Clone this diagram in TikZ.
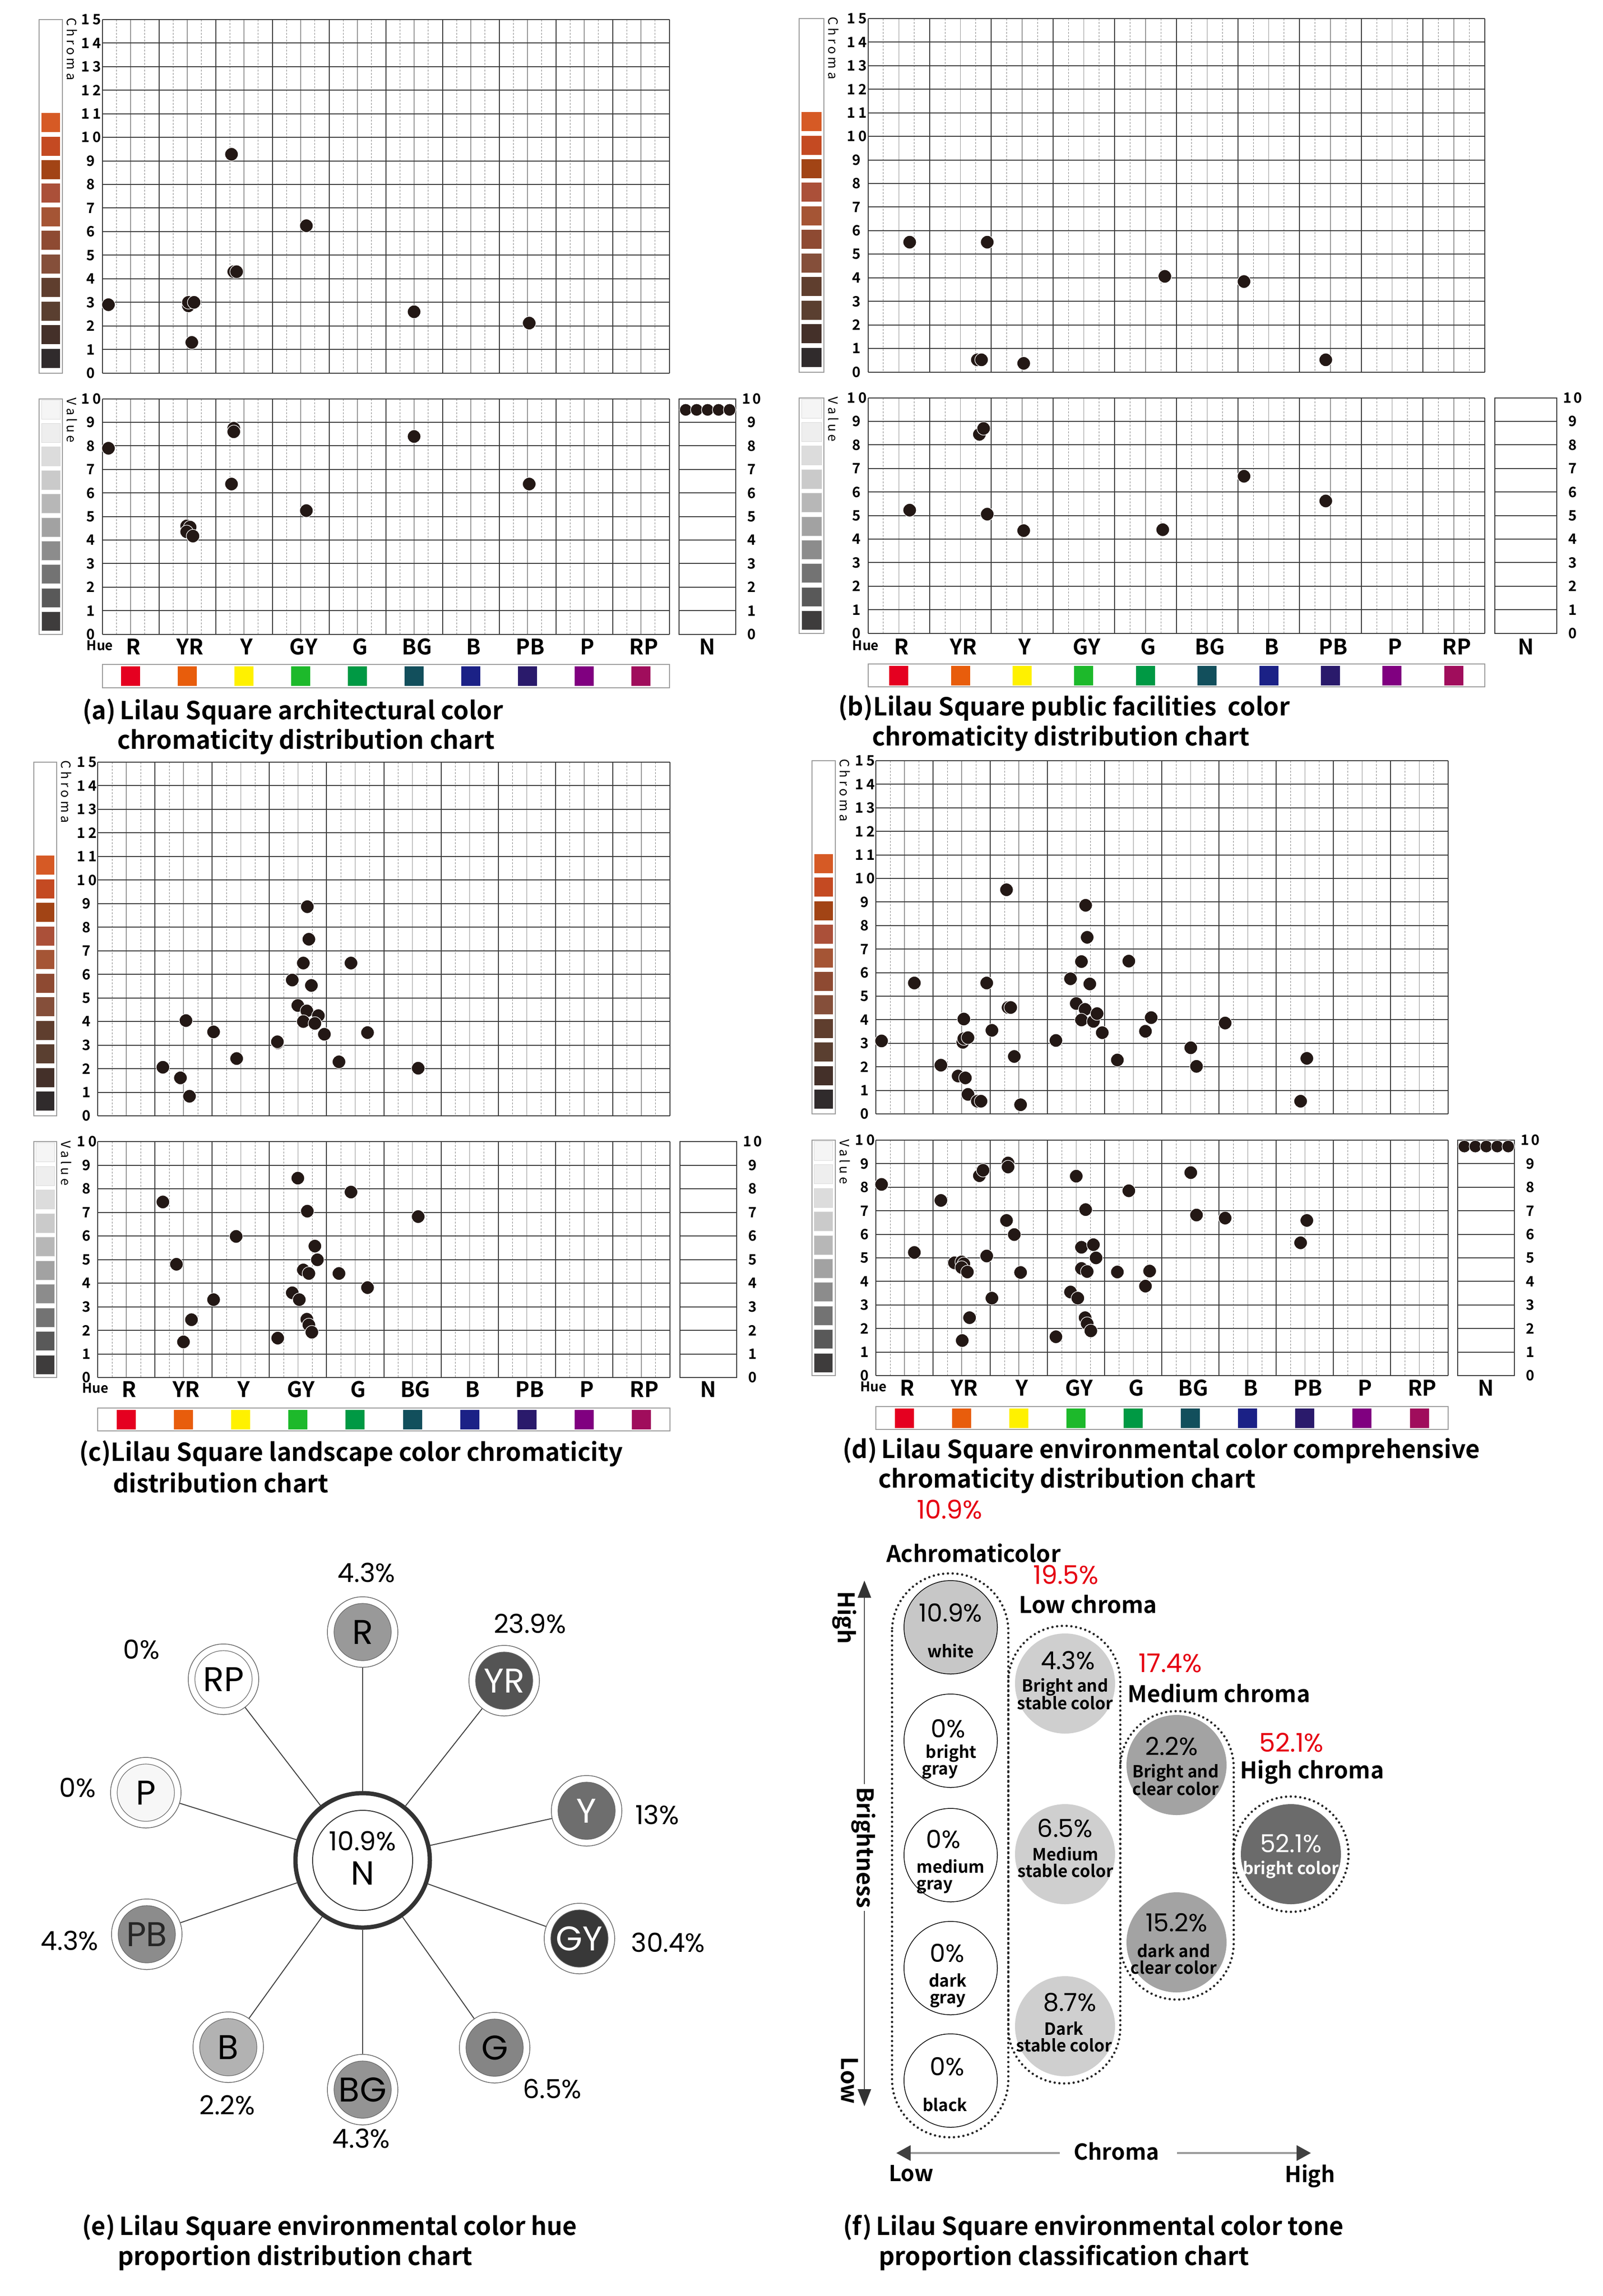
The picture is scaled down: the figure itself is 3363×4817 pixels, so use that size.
\documentclass[tikz,border=0pt]{standalone}
\usepackage{fontspec}
\usetikzlibrary{arrows.meta}
\newfontfamily\bfnt{Noto Sans CJK SC Bold}
\newfontfamily\rfnt{Noto Sans CJK SC}
\newfontfamily\thinf{Poppins}
\newcommand\fsz[1]{\fontsize{#1}{#1}\selectfont}
\definecolor{dotc}{HTML}{231815}
\definecolor{redp}{HTML}{E60012}
\definecolor{sc0}{HTML}{302B2C}\definecolor{sc1}{HTML}{443029}\definecolor{sc2}{HTML}{5A3F30}
\definecolor{sc3}{HTML}{5F3E2E}\definecolor{sc4}{HTML}{854F3A}\definecolor{sc5}{HTML}{8E4A32}
\definecolor{sc6}{HTML}{A55535}\definecolor{sc7}{HTML}{AB5039}\definecolor{sc8}{HTML}{A24415}
\definecolor{sc9}{HTML}{C44A22}\definecolor{sc10}{HTML}{D65A25}
\definecolor{vc0}{HTML}{3E3C3C}\definecolor{vc1}{HTML}{595959}\definecolor{vc2}{HTML}{737373}
\definecolor{vc3}{HTML}{8C8C8C}\definecolor{vc4}{HTML}{A2A2A2}\definecolor{vc5}{HTML}{B7B7B7}
\definecolor{vc6}{HTML}{CACACA}\definecolor{vc7}{HTML}{DCDCDC}\definecolor{vc8}{HTML}{EEEEEE}
\definecolor{vc9}{HTML}{F5F5F5}
\definecolor{hc0}{HTML}{E50020}\definecolor{hc1}{HTML}{E85D0C}\definecolor{hc2}{HTML}{FFF100}
\definecolor{hc3}{HTML}{1DB92B}\definecolor{hc4}{HTML}{009944}\definecolor{hc5}{HTML}{124F5C}
\definecolor{hc6}{HTML}{1B2186}\definecolor{hc7}{HTML}{2A1A6B}\definecolor{hc8}{HTML}{800080}
\definecolor{hc9}{HTML}{A00D5C}
\tikzset{
 mline/.style={draw=black!78,line width=2},
 hline/.style={draw=black!42,line width=1.4},
 qline/.style={draw=black!50,line width=1,dash pattern=on 4pt off 3pt},
 dot/.style={fill=dotc,draw=white,line width=1.2},
 tick/.style={inner sep=0,font=\bfnt\fsz{30}},
 huel/.style={inner sep=0,font=\bfnt\fsz{45}},
 capt/.style={inner sep=0,anchor=west,font=\bfnt\fsz{52}},
 frame/.style={draw=black!40,line width=2},
 sat/.style={circle,minimum size=148,draw=black!60,line width=1.5,fill=white,inner sep=0,font=\thinf\fsz{72}},
 pct/.style={inner sep=0,font=\thinf\fsz{55}},
 redt/.style={inner sep=0,text=redp,font=\thinf\fsz{54}},
 bl/.style={inner sep=0,font=\bfnt\fsz{48}},
 cl/.style={inner sep=0,font=\bfnt\fontsize{35}{35}\selectfont,align=center},
 cp/.style={inner sep=0,font=\thinf\fsz{52}},
 dotted capsule/.style={draw=black!85,line width=5,line cap=round,dash pattern=on 0pt off 10pt},
}
\newcommand\mgrid[4]{%
 \foreach \k in {0,...,9}{
  \draw[qline] ({\pL+(\k+0.25)*\pG},#1) -- ({\pL+(\k+0.25)*\pG},#2);
  \draw[qline] ({\pL+(\k+0.75)*\pG},#1) -- ({\pL+(\k+0.75)*\pG},#2);
  \draw[hline] ({\pL+(\k+0.5)*\pG},#1) -- ({\pL+(\k+0.5)*\pG},#2);}
 \foreach \j in {0,...,#3} \draw[mline] (\pL,{#1+\j*#4}) -- (\pR,{#1+\j*#4});
 \foreach \k in {0,...,10} \draw[mline] ({\pL+\k*\pG},#1) -- ({\pL+\k*\pG},#2);
}
\newcommand\drawpanel{%
 \pgfmathsetmacro\pR{\pL+10*\pG}
 \pgfmathsetmacro\pUC{(\pCZ-\pCT)/15}
 \pgfmathsetmacro\pUV{(\pVZ-\pVT)/10}
 \mgrid{\pCT}{\pCZ}{15}{\pUC}
 \mgrid{\pVT}{\pVZ}{10}{\pUV}
 \foreach \j in {0,...,9}{
  \node[tick] at ({\pL-24},{\pCZ-\j*\pUC}) {\j};
  \node[tick] at ({\pL-24},{\pVZ-\j*\pUV}) {\j};}
 \foreach \j in {10,...,15}{\pgfmathtruncatemacro\dd{\j-10}
  \node[tick,anchor=east] at ({\pL-2},{\pCZ-\j*\pUC}) {1\hspace{6pt}\dd};}
 \node[tick,anchor=east] at ({\pL-2},\pVT) {1\hspace{6pt}0};
 \draw[frame] (\pBa,\pCT) rectangle (\pBb,\pCZ);
 \draw[frame] (\pBa,\pVT) rectangle (\pBb,\pVZ);
 \foreach \i in {0,...,10} \fill[sc\i] ({\pBa+5},{\pCZ-11-\i*\pUC}) rectangle ({\pBb-5},{\pCZ-51-\i*\pUC});
 \foreach \i in {0,...,9} \filldraw[fill=vc\i,draw=black!15,line width=1] ({\pBa+5},{\pVZ-7-\i*\pUV}) rectangle ({\pBb-5},{\pVZ-47-\i*\pUV});
 \node[inner sep=0,rotate=-90,font=\rfnt\fsz{27}] at ({\pBb+20},{\pCT+62}) {C h r o m a};
 \node[inner sep=0,rotate=-90,font=\rfnt\fsz{27}] at ({\pBb+20},{\pVT+45}) {V a l u e};
 \draw[mline] (\pNa,\pVT) rectangle (\pNb,\pVZ);
 \foreach \j in {1,...,9} \draw[mline] (\pNa,{\pVZ-\j*\pUV}) -- (\pNb,{\pVZ-\j*\pUV});
 \foreach \j in {0,...,9} \node[tick] at ({\pNb+33},{\pVZ-\j*\pUV}) {\j};
 \node[tick] at ({\pNb+33},\pVT) {1\hspace{4pt}0};
 \node[huel] at ({(\pNa+\pNb)/2},\pHy) {N};
 \node[inner sep=0,font=\bfnt\fsz{28}] at ({\pL-5},{\pHy-3}) {Hue};
 \foreach \t [count=\k from 0] in {R,YR,Y,GY,G,BG,B,PB,P,RP}
  \node[huel] at ({\pL+(\k+0.5)*\pG+6},\pHy) {\t};
 \draw[frame] (\pL,\pSa) rectangle (\pR,\pSb);
 \foreach \k in {0,...,9} \fill[hc\k] ({\pL+(\k+0.5)*\pG-20},{(\pSa+\pSb)/2-20.5}) rectangle ({\pL+(\k+0.5)*\pG+20},{(\pSa+\pSb)/2+20.5});
}
\newcommand\chdots[1]{\foreach \hh/\cc in {#1} \filldraw[dot] ({\pL+\hh*\pG},{\pCZ-\cc*\pUC}) circle (14);}
\newcommand\vadots[1]{\foreach \hh/\cc in {#1} \filldraw[dot] ({\pL+\hh*\pG},{\pVZ-\cc*\pUV}) circle (14);}
\newcommand\ndots[1]{\foreach \i in {0,...,4} \filldraw[dot] ({\pNa+14+23*\i},{\pVZ-#1*\pUV}) circle (13);}
\begin{document}
\begin{tikzpicture}[x=1pt,y=-1pt]
\useasboundingbox (0,0) rectangle (3363,4817);
\fill[white] (0,0) rectangle (3363,4817);
% ---------- panel a
\def\pL{214.5}\def\pG{119}\def\pCT{40.8}\def\pCZ{782.7}\def\pVT{836.7}\def\pVZ{1330.6}
\def\pBa{82}\def\pBb{131}\def\pNa{1425}\def\pNb{1544}\def\pHy{1357}\def\pSa{1394}\def\pSb{1443}
\drawpanel
\chdots{0.11/2.9,2.28/9.28,3.6/6.25,2.32/4.3,2.37/4.3,1.52/2.85,1.52/3.0,1.62/3.0,1.58/1.3,5.5/2.6,7.53/2.12}
\vadots{0.11/7.9,2.32/8.75,2.32/8.6,2.28/6.38,3.6/5.25,1.49/4.6,1.55/4.55,1.49/4.35,1.6/4.17,5.5/8.4,7.53/6.38}
\ndots{9.53}
\node[capt] at (173,1493) {(a)\,Lilau Square architectural color};
\node[capt] at (246,1556) {chromaticity distribution chart};
% ---------- panel b
\def\pL{1821.5}\def\pG{129.4}\def\pCT{38.8}\def\pCZ{780.6}\def\pVT{834.7}\def\pVZ{1328.6}
\def\pBa{1677}\def\pBb{1729}\def\pNa{3137}\def\pNb{3267}\def\pHy{1357}\def\pSa{1393}\def\pSb{1441}
\drawpanel
\chdots{0.676/5.51,1.934/5.51,4.814/4.06,6.098/3.84,1.774/0.52,1.841/0.52,2.525/0.37,7.424/0.52}
\vadots{1.807/8.45,1.875/8.7,0.676/5.23,1.934/5.06,2.525/4.36,4.78/4.40,6.098/6.67,7.424/5.62}
\node[capt] at (1759,1485) {(b)Lilau Square public facilities\ \ color};
\node[capt] at (1830,1549) {chromaticity distribution chart};
% ---------- panel c
\def\pL{205}\def\pG{120.1}\def\pCT{1599}\def\pCZ{2341}\def\pVT{2395}\def\pVZ{2890}
\def\pBa{70.5}\def\pBb{119}\def\pNa{1427}\def\pNb{1546}\def\pHy{2915}\def\pSa{2954}\def\pSb{3002}
\drawpanel
\chdots{3.663/8.87,3.69/7.49,3.593/6.48,4.426/6.48,3.4/5.76,3.734/5.53,3.497/4.68,3.655/4.45,3.856/4.25,3.593/4.0,3.795/3.92,3.961/3.46,4.715/3.53,3.146/3.1,3.14/3.14,1.542/4.04,2.025/3.56,2.428/2.43,4.216/2.29,1.139/2.06,1.446/1.61,1.604/0.83,5.6/2.02}
\vadots{3.497/8.45,4.426/7.86,1.139/7.44,3.663/7.05,5.6/6.82,2.419/5.98,3.795/5.57,3.839/4.99,1.376/4.80,3.593/4.56,3.69/4.41,4.216/4.41,4.715/3.81,3.4/3.59,3.523/3.30,2.025/3.30,1.639/2.45,3.655/2.47,3.69/2.23,3.742/1.92,3.146/1.67,1.499/1.51}
\node[capt] at (166,3050) {(c)Lilau Square landscape color chromaticity};
\node[capt] at (237,3111) {distribution chart};
% ---------- panel d
\def\pL{1838}\def\pG{120.05}\def\pCT{1596}\def\pCZ{2337}\def\pVT{2392}\def\pVZ{2886}
\def\pBa{1703.5}\def\pBb{1752.7}\def\pNa{3059}\def\pNb{3178}\def\pHy{2912}\def\pSa{2951}\def\pSb{2999}
\drawpanel
\chdots{0.1/3.1,0.673/5.56,1.137/2.07,1.538/4.03,1.52/3.04,1.538/3.2,1.61/3.24,1.438/1.61,1.565/1.53,1.61/0.83,1.774/0.54,1.838/0.54,1.938/5.56,2.029/3.55,2.284/9.52,2.311/4.52,2.357/4.52,2.42/2.44,2.53/0.39,3.148/3.12,3.403/5.74,3.503/4.69,3.594/6.47,3.667/8.86,3.694/7.5,3.74/5.52,3.658/4.44,3.594/3.99,3.803/3.93,3.867/4.26,3.958/3.45,4.222/2.29,4.422/6.49,4.713/3.51,4.813/4.09,5.505/2.81,5.605/2.02,6.106/3.86,7.534/2.36,7.425/0.54}
\vadots{0.1/8.12,0.673/5.23,1.137/7.44,1.374/4.79,1.5/4.83,1.538/4.75,1.5/4.59,1.6/4.40,1.51/1.49,1.638/2.46,1.81/8.49,1.874/8.72,1.938/5.08,2.029/3.29,2.284/6.59,2.311/9.03,2.311/8.86,2.42/5.99,2.53/4.38,3.148/1.65,3.403/3.55,3.503/8.47,3.53/3.29,3.594/5.45,3.594/4.55,3.667/7.05,3.694/4.42,3.658/2.46,3.694/2.21,3.758/1.9,3.803/5.56,3.849/5.0,4.222/4.40,4.422/7.85,4.713/3.80,4.786/4.44,5.505/8.62,5.605/6.82,6.106/6.69,7.534/6.59,7.425/5.64}
\ndots{9.73}
\node[capt] at (1768,3043) {(d)\,Lilau Square environmental color comprehensive};
\node[capt] at (1843,3106) {chromaticity distribution chart};
% ---------- panel e : hue wheel
\node[circle,minimum size=282,draw=black!80,line width=9,fill=white,inner sep=0,
  path picture={\draw[black!80,line width=2] (path picture bounding box.center) circle (105);}] (N) at (761,3903) {};
\node[inner sep=0,font=\thinf\fsz{55}] (Np) at (761,3863) {10.9\%};
\node[inner sep=0,font=\thinf\fsz{70}] (Nl) at (761,3930) {N};
\foreach \nm/\xx/\yy/\fc/\tc in {R/761/3424/black!40/black, YR/1058/3526/black!67/white, Y/1231/3799/black!57/white, GY/1216/4067/black!78/white, G/1038/4296/black!48/black, BG/761/4384/black!42/black, B/479/4295/black!30/black, PB/308/4058/black!45/black!85, P/306/3761/black!3/black, RP/469/3523/white/black}{
 \node[sat,text=\tc,path picture={\filldraw[fill=\fc,draw=black!60,line width=1.2] (path picture bounding box.center) circle (60);}] (\nm) at (\xx,\yy) {\nm};
 \draw[line width=2,black!75] (N) -- (\nm);
}
\node[pct] (pR) at (769,3300) {4.3\%};
\node[pct] (pYR) at (1112,3407) {23.9\%};
\node[pct] (pRP) at (297,3461) {0\%};
\node[pct] (pP) at (163,3751) {0\%};
\node[pct] (pY) at (1379,3808) {13\%};
\node[pct] (pGY) at (1402,4076) {30.4\%};
\node[pct] (pPB) at (146,4072) {4.3\%};
\node[pct] (pB) at (477,4417) {2.2\%};
\node[pct] (pG) at (1159,4382) {6.5\%};
\node[pct] (pBG) at (758,4487) {4.3\%};
\node[capt] at (172,4673) {(e)\,Lilau Square environmental color hue};
\node[capt] at (247,4737) {proportion distribution chart};
% ---------- panel f
\draw[dotted capsule,rounded corners=121] (1872,3301) rectangle (2116,4484);
\draw[dotted capsule,rounded corners=117] (2116,3411) rectangle (2351,4371);
\draw[dotted capsule,rounded corners=118] (2351,3590) rectangle (2589,4195);
\draw[dotted capsule] (2709,3890) circle (121);
\node[redt] (r1) at (1993,3167) {10.9\%};
\node[bl] (t1) at (2043,3258) {Achromaticolor};
\node[redt] (r2) at (2237,3304) {19.5\%};
\node[bl,anchor=west] (t2) at (2138,3366) {Low chroma};
\node[redt] (r3) at (2456,3489) {17.4\%};
\node[bl,anchor=west] (t3) at (2366,3552) {Medium chroma};
\node[redt] (r4) at (2710,3656) {52.1\%};
\node[bl,anchor=west] (t4) at (2602,3718) {High chroma};
\tikzset{ac/.style={circle,minimum size=196,draw=black,line width=1.5,fill=white},
 lc/.style={circle,minimum size=210,fill=black!19},
 mc/.style={circle,minimum size=210,fill=black!36},
 hc/.style={circle,minimum size=210,fill=black!58}}
\node[ac,fill=black!22] (a1) at (1995,3414) {};
\node[ac] (a2) at (1995,3652) {};
\node[ac] (a3) at (1995,3892) {};
\node[ac] (a4) at (1995,4129) {};
\node[ac] (a5) at (1995,4365) {};
\node[lc] (l1) at (2235,3532) {};
\node[lc] (l2) at (2235,3890) {};
\node[lc] (l3) at (2235,4251) {};
\node[mc] (m1) at (2469,3703) {};
\node[mc] (m2) at (2469,4075) {};
\node[hc] (h1) at (2709,3890) {};
\node[cp] at (1995,3384) {10.9\%};\node[cl] at (1995,3464) {white};
\node[cp] at (1990,3627) {0\%};\node[cl,align=left] at (1992,3696) {\hspace*{8pt}bright\\gray};
\node[cp] at (1980,3859) {0\%};\node[cl,align=left] at (1995,3937) {medium\\gray};
\node[cp] at (1988,4098) {0\%};\node[cl] at (1989,4176) {dark\\gray};
\node[cp] at (1988,4336) {0\%};\node[cl] at (1983,4416) {black};
\node[cp] at (2241,3484) {4.3\%};\node[cl] at (2235,3554) {Bright and\\stable color};
\node[cp] at (2235,3836) {6.5\%};\node[cl] at (2236,3907) {Medium\\stable color};
\node[cp] at (2245,4201) {8.7\%};\node[cl] at (2233,4273) {Dark\\stable color};
\node[cp] at (2459,3664) {2.2\%};\node[cl] at (2467,3734) {Bright and\\clear color};
\node[cp] at (2469,4034) {15.2\%};\node[cl] at (2463,4110) {dark and\\clear color};
\node[cp,text=white] at (2709,3868) {52.1\%};\node[cl,text=white] at (2709,3923) {bright color};
\coordinate (bt) at (1814,3316);
\coordinate (bb) at (1814,4419);
\draw[line width=2,black!70,{Triangle[length=36,width=28,black!80]}-{Triangle[length=36,width=28,black!80]}] (bt) -- (bb);
\node[bl,rotate=-90,fill=white,inner sep=6] (bn) at (1812,3876) {Brightness};
\node[bl,rotate=-90] (bh) at (1772,3394) {High};
\node[bl,rotate=-90] (blw) at (1783,4365) {Low};
\node[bl,font=\bfnt\fsz{46}] (ch) at (2343,4513) {Chroma};
\coordinate (cl1) at (1881,4517);
\coordinate (cr1) at (2751,4517);
\coordinate (cl0) at (2224,4517);
\coordinate (cr0) at (2470,4517);
\draw[line width=4,black!40,-{Triangle[length=30,width=32,black!75]}] (cl0) -- (cl1);
\draw[line width=4,black!40,-{Triangle[length=30,width=32,black!75]}] (cr0) -- (cr1);
\node[bl,font=\bfnt\fsz{46}] (lo) at (1912,4560) {Low};
\node[bl,font=\bfnt\fsz{46}] (hi) at (2749,4565) {High};
\node[capt] at (1769,4673) {(f)\,Lilau Square environmental color tone};
\node[capt] at (1844,4737) {proportion classification chart};
\end{tikzpicture}
\end{document}
